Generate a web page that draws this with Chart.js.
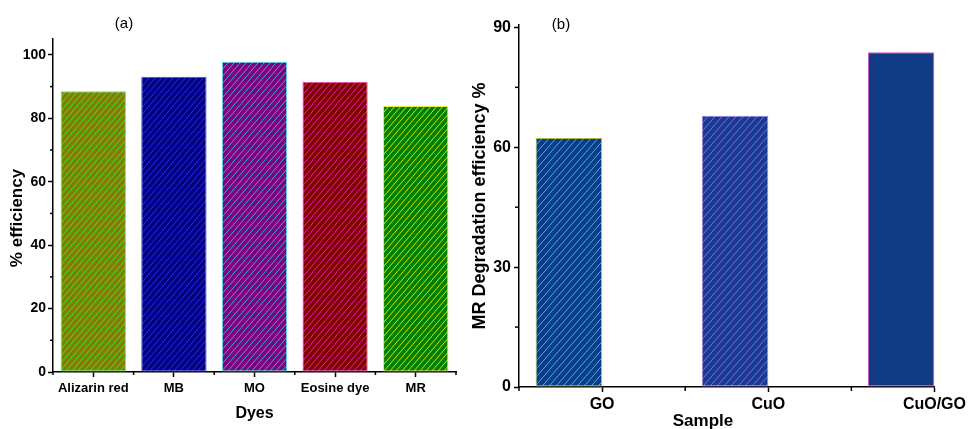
<!DOCTYPE html>
<html>
<head>
<meta charset="utf-8">
<script src="https://cdn.jsdelivr.net/npm/chart.js@4.4.1/dist/chart.umd.min.js"></script>
<style>
  html, body { margin: 0; padding: 0; background: #fff; }
  #wrap { position: relative; width: 969px; height: 429px; overflow: hidden; }
  #boxA { position: absolute; left: 0; top: 0; width: 480px; height: 429px; }
  #boxB { position: absolute; left: 460px; top: 0; width: 509px; height: 429px; }
</style>
</head>
<body>
<div id="wrap">
  <div id="boxA"><canvas id="chartA"></canvas></div>
  <div id="boxB"><canvas id="chartB"></canvas></div>
</div>
<script>
// panel (a) - efficiency per dye
const dyes = ['Alizarin red', 'MB', 'MO', 'Eosine dye', 'MR'];
const efficiency = [88.5, 93.1, 97.8, 91.5, 83.9];
const effTicks = [0, 20, 40, 60, 80, 100];

// panel (b) - MR degradation per sample
const samples = ['GO', 'CuO', 'CuO/GO'];
const degradation = [62.3, 67.9, 83.8];
const degTicks = [0, 30, 60, 90];

// colours (fill, hatch lines, edge)
const dyeFill = ['#808000', '#000080', '#800080', '#800000', '#008000'];
const dyeHatch = ['#40e040', '#2c2cf4', '#3cacd8', '#e424b0', '#cce400'];
const dyeEdge = ['#44ff44', '#4444ff', '#44e4e4', '#ff44d4', '#e8e844'];

const sampleFill = ['#0b3c8a', '#173b90', '#0b3c8a'];
const sampleHatch = ['#44b0e0', '#8468de', '#2a3a6e'];
const sampleEdge = ['#b8b844', '#a084e0', '#c462c4'];

const FONT = "'Liberation Sans', Arial, sans-serif";
const BAR_SHIFT = 0.2; // bars in (b) sit left of their label

function hatch(fill, line, w, h) {
  const c = document.createElement('canvas');
  c.width = w;
  c.height = h;
  const g = c.getContext('2d');
  g.fillStyle = fill;
  g.fillRect(0, 0, w, h);
  g.strokeStyle = line;
  g.lineWidth = 1;
  for (const dx of [-w, 0, w]) {
    g.beginPath();
    g.moveTo(dx, h);
    g.lineTo(dx + w, 0);
    g.stroke();
  }
  return g.createPattern(c, 'repeat');
}

// short ticks between the labelled ones
const minorTicks = {
  id: 'minorTicks',
  afterDraw(chart, args, opts) {
    const ctx = chart.ctx;
    ctx.save();
    ctx.strokeStyle = '#000';
    ctx.lineWidth = 1.5;
    (opts.list || []).forEach(m => {
      const sc = chart.scales[m.scale];
      for (let v = m.from; v <= m.to + 1e-9; v += m.step) {
        const p = sc.getPixelForValue(v);
        ctx.beginPath();
        if (sc.isHorizontal()) {
          ctx.moveTo(p, sc.top);
          ctx.lineTo(p, sc.top + m.len);
        } else {
          ctx.moveTo(sc.right, p);
          ctx.lineTo(sc.right - m.len, p);
        }
        ctx.stroke();
      }
    });
    ctx.restore();
  }
};

// loose texts: panel letters and off-centre titles
const freeText = {
  id: 'freeText',
  afterDraw(chart, args, opts) {
    const ctx = chart.ctx;
    (opts.items || []).forEach(t => {
      ctx.save();
      ctx.translate(t.x, t.y);
      if (t.rotate) ctx.rotate(t.rotate);
      ctx.font = t.font;
      ctx.fillStyle = '#000';
      ctx.textAlign = 'center';
      ctx.textBaseline = 'middle';
      ctx.fillText(t.text, 0, 0);
      ctx.restore();
    });
  }
};

const axisBorder = { color: '#000', width: 1.5 };
const tickGrid = { drawOnChartArea: false, offset: false, tickLength: 5, tickWidth: 1.5, tickColor: '#000' };

new Chart(document.getElementById('chartA'), {
  type: 'bar',
  data: {
    labels: dyes,
    datasets: [{
      data: efficiency,
      backgroundColor: dyes.map((_, i) => hatch(dyeFill[i], dyeHatch[i], 6, 7)),
      borderColor: dyeEdge,
      borderWidth: 1,
      borderSkipped: false,
      barPercentage: 0.81,
      categoryPercentage: 1
    }]
  },
  options: {
    responsive: true,
    maintainAspectRatio: false,
    animation: false,
    layout: { padding: { left: 0, right: 24, top: 39, bottom: 0 } },
    plugins: {
      legend: { display: false },
      tooltip: { enabled: false },
      minorTicks: {
        list: [
          { scale: 'y', from: 10, to: 105, step: 20, len: 3 },
          { scale: 'x', from: -0.5, to: dyes.length - 0.5, step: 1, len: 3 }
        ]
      },
      freeText: {
        items: [
          { text: '(a)', x: 124, y: 24, font: '15px ' + FONT },
          { text: '% efficiency', x: 17, y: 218, rotate: -Math.PI / 2, font: 'bold 17px ' + FONT }
        ]
      }
    },
    scales: {
      x: {
        grid: tickGrid,
        border: axisBorder,
        ticks: { color: '#000', font: { family: FONT, size: 13, weight: 'bold' }, padding: 4, maxRotation: 0, autoSkip: false },
        title: { display: true, text: 'Dyes', color: '#000', font: { family: FONT, size: 16, weight: 'bold' }, padding: { top: 0, bottom: 6 } },
        afterFit: s => { s.height = 57; }
      },
      y: {
        min: 0,
        max: 105,
        afterBuildTicks: s => { s.ticks = effTicks.map(v => ({ value: v })); },
        grid: tickGrid,
        border: axisBorder,
        ticks: { color: '#000', font: { family: FONT, size: 14, weight: 'bold' }, padding: 2 },
        afterFit: s => { s.width = 53; }
      }
    }
  },
  plugins: [minorTicks, freeText]
});

new Chart(document.getElementById('chartB'), {
  type: 'bar',
  data: {
    datasets: [{
      data: degradation.map((v, i) => ({ x: i + 1 - BAR_SHIFT, y: v })),
      backgroundColor: samples.map((_, i) => hatch(sampleFill[i], sampleHatch[i], 7, 8)),
      borderColor: sampleEdge,
      borderWidth: 1,
      borderSkipped: false,
      barPercentage: 0.4,
      categoryPercentage: 1
    }]
  },
  options: {
    responsive: true,
    maintainAspectRatio: false,
    animation: false,
    layout: { padding: { left: 0, right: 33, top: 25, bottom: 0 } },
    plugins: {
      legend: { display: false },
      tooltip: { enabled: false },
      minorTicks: {
        list: [
          { scale: 'y', from: 15, to: 90, step: 30, len: 4 },
          { scale: 'x', from: 0.5, to: samples.length, step: 1, len: 4 }
        ]
      },
      freeText: {
        items: [
          { text: '(b)', x: 101, y: 25, font: '15px ' + FONT },
          { text: 'Sample', x: 243, y: 421, font: 'bold 17px ' + FONT }
        ]
      }
    },
    scales: {
      x: {
        type: 'linear',
        offset: false,
        min: 0.5,
        max: samples.length,
        afterBuildTicks: s => { s.ticks = samples.map((_, i) => ({ value: i + 1 })); },
        grid: tickGrid,
        border: axisBorder,
        ticks: {
          color: '#000',
          font: { family: FONT, size: 16, weight: 'bold' },
          padding: 3,
          maxRotation: 0,
          autoSkip: false,
          callback: v => samples[v - 1] || ''
        },
        afterFit: s => { s.height = 42; }
      },
      y: {
        min: 0,
        max: 90.6,
        afterBuildTicks: s => { s.ticks = degTicks.map(v => ({ value: v })); },
        grid: tickGrid,
        border: axisBorder,
        ticks: { color: '#000', font: { family: FONT, size: 16, weight: 'bold' }, padding: 3 },
        title: { display: true, text: 'MR Degradation efficiency %', color: '#000', font: { family: FONT, size: 18, weight: 'bold' }, padding: { top: 9, bottom: 0 } },
        afterFit: s => { s.width = 59; }
      }
    }
  },
  plugins: [minorTicks, freeText]
});
</script>
</body>
</html>
